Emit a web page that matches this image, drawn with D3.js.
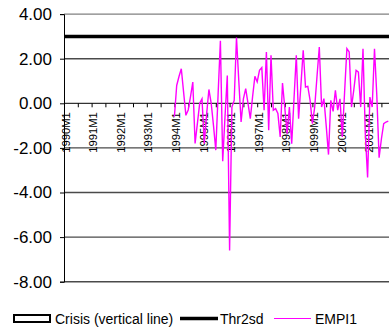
<!DOCTYPE html>
<html>
<head>
<meta charset="utf-8">
<script src="https://cdn.jsdelivr.net/npm/d3@7"></script>
<style>
  body { margin: 0; background: #fff; }
  text { font-family: Arial, "Liberation Sans", sans-serif; }
</style>
</head>
<body>
<div class="canvas"></div>
<script>
// Category labels shown on the x axis (one every 12 months)
const yearLabels = ['1990M1', '1991M1', '1992M1', '1993M1', '1994M1', '1995M1',
  '1996M1', '1997M1', '1998M1', '1999M1', '2000M1', '2001M1']

// EMPI1 monthly values, starting at 1994M1
const empiStart = 48
const empi1 = [
  -0.6, 0.8, 1.2, 1.55, 0.5, -0.54, -0.3, 0.3, 0.95, -1.8, -0.9, 0.0,
  0.2, -1.8, -0.5, 0.62, 0.0, -1.0, -2.1, 0.4, 2.8, -2.6, -0.6, 1.25,
  -6.6, -0.17, 0.13, 2.95, 1.0, -0.84, 0.2, 0.66, 0.0, -0.69, 0.3, 1.21,
  0.96, 1.48, 1.6, -0.31, 2.3, -1.21, 2.15, -0.31, -0.24, -0.46, -1.51, 0.91,
  -0.2, -1.36, -0.17, -1.81, 0.2, 2.15, -0.69, 0.8, 2.38, 0.73, 0.76, 0.13,
  -0.91, -0.17, 1.2, 2.52, -0.17, 0.21, -1.0, -2.3, 0.13, -0.36, 0.58, -0.31,
  0.2, -1.51, 0.5, 2.45, 2.3, -0.17, 0.6, 1.48, 1.4, -0.17, 2.45, -1.36,
  -3.33, 0.28, -0.17, 2.45, 0.36, -2.44, -1.6, -0.91, -0.84, -0.8
]

// Threshold (2 std dev) and crisis months (none flagged)
const thr2sd = 3.0
const crisisMonths = []

const yTicks = [4, 2, 0, -2, -4, -6, -8]
const lastMonth = 150

const width = 389
const height = 327

const svg = d3.select('.canvas')
  .append('svg')
    .attr('width', width)
    .attr('height', height)

const x = d3.scaleLinear()
  .domain([0, lastMonth])
  .range([64, 64 + lastMonth * 2.3])

const y = d3.scaleLinear()
  .domain([-8, 4])
  .range([281.7, 14.1])

// Gridlines
svg.append('g')
  .selectAll('line')
  .data(yTicks.filter(d => d !== 0))
  .enter()
  .append('line')
    .attr('x1', x(0))
    .attr('x2', width + 5)
    .attr('y1', d => y(d))
    .attr('y2', d => y(d))
    .attr('stroke', d => d === 4 ? '#808080' : '#4a4a4a')
    .attr('stroke-width', 1.4)

// Y axis
const yAxis = svg.append('g')
  .attr('transform', `translate(${x(0)},0)`)
  .call(d3.axisLeft(y).tickValues(yTicks).tickSize(4).tickFormat(d => d.toFixed(2)))
yAxis.select('.domain').attr('stroke', '#000')
yAxis.selectAll('.tick line').attr('stroke', '#000')
yAxis.selectAll('.tick text')
  .attr('x', -12)
  .attr('font-size', 17)
  .attr('fill', '#000')
  .attr('font-family', 'Arial, "Liberation Sans", sans-serif')

// X axis along zero
const xAxis = svg.append('g')
  .attr('transform', `translate(0,${y(0)})`)
  .call(d3.axisBottom(x).tickValues(d3.range(0, lastMonth + 1, 6)).tickSize(4).tickFormat(''))
xAxis.select('.domain').attr('stroke', '#000').attr('d', `M${x(0)},0H${width + 5}`)
xAxis.selectAll('.tick line').attr('stroke', '#000')

svg.append('g')
  .selectAll('text')
  .data(yearLabels)
  .enter()
  .append('text')
    .attr('transform', (d, i) => `translate(${x(i * 12) + 5.5},${y(0) + 9}) rotate(-90)`)
    .attr('text-anchor', 'end')
    .attr('font-size', 11.2)
    .attr('fill', '#000')
    .text(d => d)

// Threshold line
svg.append('line')
  .attr('x1', x(0))
  .attr('x2', width + 5)
  .attr('y1', y(thr2sd))
  .attr('y2', y(thr2sd))
  .attr('stroke', '#000')
  .attr('stroke-width', 3.5)

// Crisis vertical lines
svg.append('g')
  .selectAll('line')
  .data(crisisMonths)
  .enter()
  .append('line')
    .attr('x1', d => x(d))
    .attr('x2', d => x(d))
    .attr('y1', y(4))
    .attr('y2', y(-8))
    .attr('stroke', '#000')

// EMPI1 line
const line = d3.line()
  .x((d, i) => x(empiStart + i))
  .y(d => y(d))

svg.append('path')
  .datum(empi1)
  .attr('d', line)
  .attr('fill', 'none')
  .attr('stroke', '#ff00ff')
  .attr('stroke-width', 1.4)

// Legend
const legend = svg.append('g')
legend.append('rect')
  .attr('x', 14).attr('y', 315)
  .attr('width', 36).attr('height', 7)
  .attr('fill', '#fff').attr('stroke', '#000').attr('stroke-width', 2)
legend.append('text')
  .attr('x', 55).attr('y', 324)
  .attr('font-size', 14)
  .text('Crisis (vertical line)')
legend.append('line')
  .attr('x1', 180).attr('x2', 218)
  .attr('y1', 318.5).attr('y2', 318.5)
  .attr('stroke', '#000').attr('stroke-width', 3.5)
legend.append('text')
  .attr('x', 220).attr('y', 324)
  .attr('font-size', 14)
  .text('Thr2sd')
legend.append('line')
  .attr('x1', 274).attr('x2', 311)
  .attr('y1', 318.5).attr('y2', 318.5)
  .attr('stroke', '#ff00ff').attr('stroke-width', 1.2)
legend.append('text')
  .attr('x', 315).attr('y', 324)
  .attr('font-size', 14)
  .text('EMPI1')
</script>
</body>
</html>
